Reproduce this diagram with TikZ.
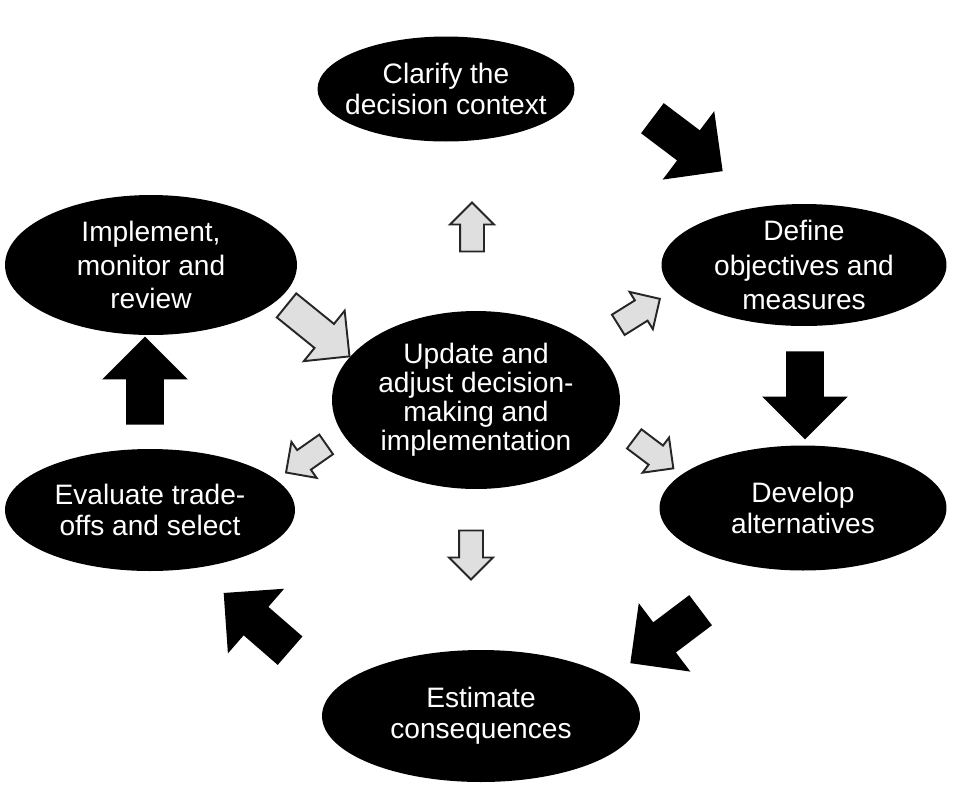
\documentclass[tikz,border=0pt]{standalone}
\usepackage{fontspec}
\setmainfont{Liberation Sans}
\usetikzlibrary{shapes.geometric, shapes.arrows}

\begin{document}
\begin{tikzpicture}[
		x=0.02cm, y=-0.02cm,
		st/.style = {ellipse, fill=black, text=white, align=center, inner sep=-1.5cm, font=\fontsize{16}{17.5}\selectfont},
		ba/.style = {single arrow, fill=black, inner xsep=0pt, inner ysep=0.37cm, minimum height=1.76cm, single arrow head extend=0.48cm},
		ga/.style = {single arrow, fill=gray!25, draw=black!85, line width=1.1pt, inner xsep=0pt, inner ysep=0.22cm, minimum height=0.98cm, single arrow head extend=0.2cm},
		gb/.style = {ga, inner ysep=0.29cm, minimum height=1.62cm, single arrow head extend=0.34cm},
		]
		\useasboundingbox (0,0) rectangle (967,796);
		
		%Nodes
		\node[st, minimum width=5.14cm, minimum height=2.1cm]	(clarify)	at	(446, 89)	{Clarify the\\decision context};
		\node[st, minimum width=5.7cm, minimum height=2.44cm, font=\fontsize{16}{19.5}\selectfont]	(define)	at	(804, 265)	{Define\\objectives and\\measures};
		\node[st, minimum width=5.74cm, minimum height=2.5cm]	(develop)	at	(803, 508)	{Develop\\alternatives};
		\node[st, minimum width=6.36cm, minimum height=2.64cm]	(estimate)	at	(481, 716)	{Estimate\\consequences};
		\node[st, minimum width=5.8cm, minimum height=2.44cm]	(evaluate)	at	(150, 510)	{Evaluate trade-\\offs and select};
		\node[st, minimum width=5.84cm, minimum height=2.8cm, font=\fontsize{16}{19}\selectfont]	(implement)	at	(151, 265)	{Implement,\\monitor and\\review};
		\node[st, minimum width=5.76cm, minimum height=3.56cm, font=\fontsize{16}{16.5}\selectfont]	(update)	at	(476, 400)	{Update and\\adjust decision-\\making and\\implementation};
		
		%Arrows
		\node[ba, rotate=-37]	(b1)	at	(680, 139)	{};
		\node[ba, rotate=-90]	(b2)	at	(805, 386)	{};
		\node[ba, rotate=217]	(b3)	at	(673, 631)	{};
		\node[ba, rotate=139]	(b4)	at	(264, 628)	{};
		\node[ba, rotate=90]	(b5)	at	(145, 390)	{};
		\node[ga, rotate=90]	(g1)	at	(472, 233)	{};
		\node[ga, rotate=32]	(g2)	at	(634, 315)	{};
		\node[ga, rotate=-37]	(g3)	at	(649, 450)	{};
		\node[ga, rotate=-90]	(g4)	at	(471, 549)	{};
		\node[ga, rotate=215]	(g5)	at	(311, 455)	{};
		\node[gb, rotate=-39]	(g6)	at	(312, 326)	{};
		
	\end{tikzpicture}
\end{document}
